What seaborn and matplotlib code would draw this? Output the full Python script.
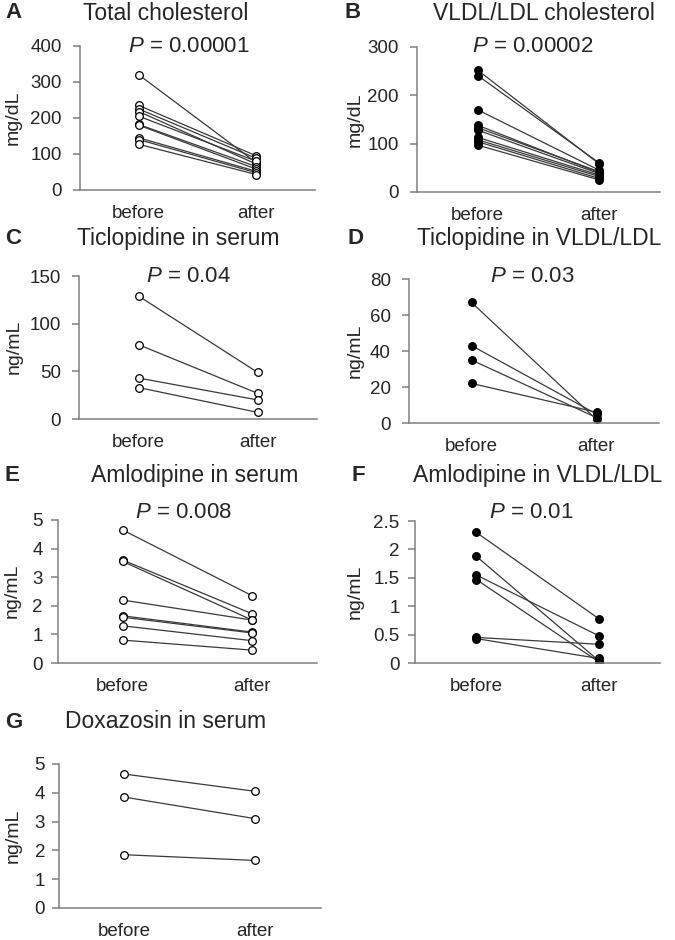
import numpy as np
import pandas as pd
import matplotlib
matplotlib.use("Agg")
import matplotlib.pyplot as plt
import seaborn as sns

# values
times = ["before", "after"]

chol_before = [320, 235, 225, 218, 205, 182, 180, 145, 140, 127]
chol_after = [76, 95, 88, 72, 80, 65, 58, 52, 48, 43]

vldl_before = [252, 241, 170, 138, 133, 128, 113, 108, 104, 97]
vldl_after = [58, 60, 45, 40, 42, 38, 35, 32, 28, 25]

tic_serum_before = [129, 78, 43, 33]
tic_serum_after = [49, 27, 20, 7]

tic_vldl_before = [67, 43, 35, 22]
tic_vldl_after = [2, 5, 3, 6]

aml_serum_before = [4.65, 3.6, 3.55, 2.2, 1.65, 1.6, 1.3, 0.8]
aml_serum_after = [2.35, 1.72, 1.5, 1.5, 1.08, 1.05, 0.78, 0.45]

aml_vldl_before = [2.3, 1.88, 1.55, 1.47, 0.45, 0.43]
aml_vldl_after = [0.78, 0.04, 0.48, 0.02, 0.33, 0.08]

dox_serum_before = [4.65, 3.85, 1.85]
dox_serum_after = [4.05, 3.1, 1.65]

panels = [
    # letter, title, p text, unit, before, after, filled, yticks, rect px (l, t, r, b), y tick pad
    ("A", "Total cholesterol", "0.00001", "mg/dL", chol_before, chol_after, False,
     [0, 100, 200, 300, 400], (80, 46, 315, 190), 8),
    ("B", "VLDL/LDL cholesterol", "0.00002", "mg/dL", vldl_before, vldl_after, True,
     [0, 100, 200, 300], (417, 47, 660, 192), 8),
    ("C", "Ticlopidine in serum", "0.04", "ng/mL", tic_serum_before, tic_serum_after, False,
     [0, 50, 100, 150], (79, 276, 317, 419), 8),
    ("D", "Ticlopidine in VLDL/LDL", "0.03", "ng/mL", tic_vldl_before, tic_vldl_after, True,
     [0, 20, 40, 60, 80], (409, 279, 659, 423), 8),
    ("E", "Amlodipine in serum", "0.008", "ng/mL", aml_serum_before, aml_serum_after, False,
     [0, 1, 2, 3, 4, 5], (58, 520, 317, 663), 6),
    ("F", "Amlodipine in VLDL/LDL", "0.01", "ng/mL", aml_vldl_before, aml_vldl_after, True,
     [0, 0.5, 1, 1.5, 2, 2.5], (415, 521, 660, 663), 6),
    ("G", "Doxazosin in serum", None, "ng/mL", dox_serum_before, dox_serum_after, False,
     [0, 1, 2, 3, 4, 5], (59, 764, 321, 908), 5),
]

# text anchor points in pixels: letter x, title centre, p centre, ylabel centre
letter_pos = [(5, 13), (345, 13), (5, 239), (347, 239), (5, 475), (352, 475), (5, 722)]
title_pos = [(166, 13), (544, 13), (178, 239), (539, 239), (195, 475), (538, 475), (166, 722)]
p_pos = [(189, 46), (533, 47), (188, 276), (532, 276), (183, 513), (531, 513), None]
ylab_pos = [(13, 118), (355, 120), (14, 347), (355, 351), (12, 591), (355, 592), (13, 836)]

sns.set_style("white")
plt.rcParams["font.family"] = ["Liberation Sans", "DejaVu Sans"]
plt.rcParams["mathtext.fontset"] = "custom"
plt.rcParams["mathtext.it"] = "Liberation Sans:italic"
plt.rcParams["mathtext.rm"] = "Liberation Sans"

W, H = 675, 940
fig = plt.figure(figsize=(W / 100, H / 100), dpi=100)


def fx(x):
    return x / W


def fy(y):
    return 1 - y / H


spine_col = "#808080"

for i, (letter, title, p, unit, before, after, filled, yticks, rect, ypad) in enumerate(panels):
    l, t, r, b = rect
    ax = fig.add_axes([fx(l), fy(b), (r - l) / W, (b - t) / H])

    n = len(before)
    df = pd.DataFrame({
        "subject": list(range(n)) * 2,
        "pos": [0] * n + [1] * n,
        "value": list(before) + list(after),
    })
    sns.lineplot(data=df, x="pos", y="value", units="subject", estimator=None,
                 color="#3a3a3a", lw=0.9, marker="o", markersize=5.5,
                 markerfacecolor="black" if filled else "white",
                 markeredgecolor="black", markeredgewidth=0.9,
                 legend=False, ax=ax)

    ax.set_xlim(-0.5, 1.5)
    ax.set_ylim(yticks[0], yticks[-1])
    ax.set_xticks([0, 1])
    ax.set_xticklabels(times, fontsize=13.5)
    ax.set_yticks(yticks)
    ax.set_yticklabels([f"{v:g}" for v in yticks], fontsize=13.5)
    ax.set_xlabel("")
    ax.set_ylabel("")
    for s in ["top", "right"]:
        ax.spines[s].set_visible(False)
    for s in ["left", "bottom"]:
        ax.spines[s].set_color(spine_col)
        ax.spines[s].set_linewidth(1.1)
    ax.tick_params(axis="x", length=0, pad=11)
    ax.tick_params(axis="y", length=5, width=1.1, color=spine_col, pad=ypad, left=True)

    lx, ly = letter_pos[i]
    fig.text(fx(lx), fy(ly), letter, fontsize=16, fontweight="bold", ha="left", va="center")
    tx, ty = title_pos[i]
    fig.text(fx(tx), fy(ty), title, fontsize=16.5, ha="center", va="center")
    if p is not None:
        px, py = p_pos[i]
        fig.text(fx(px), fy(py), f"$P$ = {p}", fontsize=16, ha="center", va="center")
    yx, yy = ylab_pos[i]
    fig.text(fx(yx), fy(yy), unit, fontsize=14, rotation=90, ha="center", va="center")

plt.savefig("out.png", dpi=100)
